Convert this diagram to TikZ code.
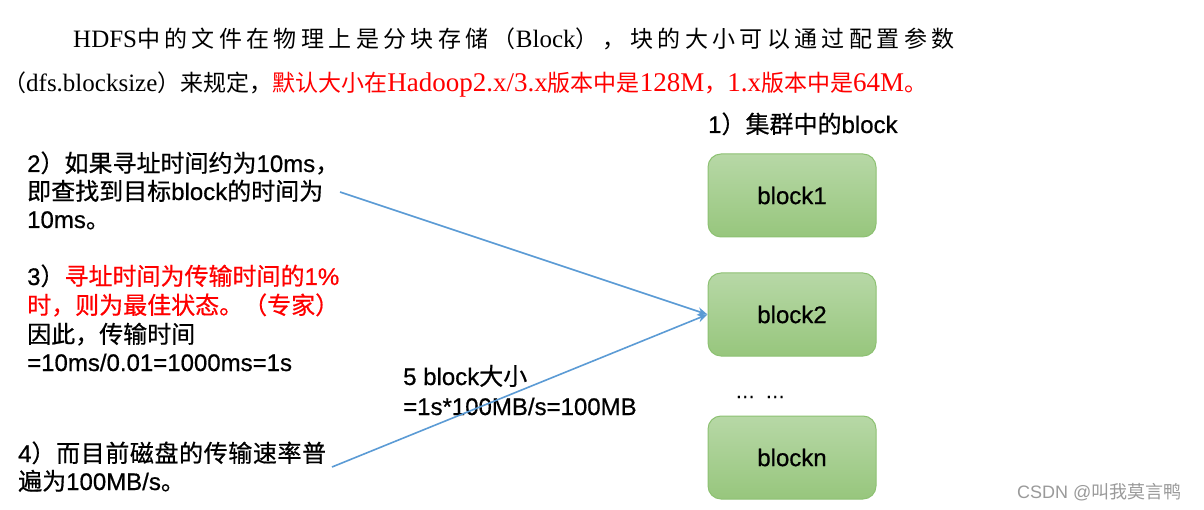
\documentclass[tikz,border=0pt]{standalone}
\usepackage{fontspec}
\setmainfont[FakeBold=0.6]{Liberation Sans}
\newfontfamily\zhf[FakeBold=0.6]{Noto Sans CJK SC}
\newfontfamily\zhplain{Noto Sans CJK SC}
\newfontfamily\zhwide[LetterSpace=19]{Noto Sans CJK SC}
\newfontfamily\zhsp[LetterSpace=2.5,FakeBold=0.6]{Noto Sans CJK SC}
\newfontfamily\serf{Liberation Serif}
\newcommand\zh[1]{{\zhf #1}}
\newcommand\zt[1]{{\fontsize{23}{30}\zhplain #1}}
\newcommand\zhw[1]{{\fontsize{23}{30}\zhwide #1}}
\newcommand\zhs[1]{{\zhsp #1}}
\newcommand\redlat[1]{{\fontsize{27}{30}\selectfont #1}}
\usetikzlibrary{arrows.meta}
\definecolor{arrowblue}{HTML}{5B9BD5}
\definecolor{gtop}{HTML}{B7D8A6}
\definecolor{gbot}{HTML}{97C67D}
\definecolor{gline}{HTML}{8DC172}
\definecolor{wm}{HTML}{9A9A9A}
\definecolor{hred}{HTML}{FF0000}
\begin{document}
\begin{tikzpicture}[x=1pt,y=-1pt,
  txt/.style={anchor=base west,inner sep=0pt,font=\fontsize{24}{29}\selectfont},
  head/.style={anchor=base west,inner sep=0pt,font=\fontsize{25}{30}\serf},
  blockbox/.style={draw=gline,line width=1pt,rounded corners=13pt,top color=gtop,bottom color=gbot,minimum width=168pt,minimum height=83pt,font=\fontsize{24}{28}\selectfont,inner sep=0pt},
  link/.style={draw=arrowblue,line width=1.6pt,-{Stealth[length=10pt,width=8pt]}}]
\fill[white] (0,0) rectangle (1204,510);
\useasboundingbox (0,0) rectangle (1204,510);
% heading
\node[head] (h1) at (73,48) {HDFS\zhw{中的文件在物理上是分块存储（}Block\zhw{），块的大小可以通过配置参数}};
\node[head] (h2) at (3,92) {\zt{（}dfs.blocksize\zt{）来规定，}\textcolor{hred}{\zt{默认大小在}\redlat{Hadoop2.x/3.x}\zt{版本中是}\redlat{128M}\zt{，}\redlat{1.x}\zt{版本中是}\redlat{64M}\zt{。}}};
% left column
\node[txt] (t2a) at (27,172) {2\zh{）如果寻址时间约为}10ms\zh{，}};
\node[txt] (t2b) at (27,200) {\zh{即查找到目标}block\zh{的时间为}};
\node[txt] (t2c) at (27,228) {10ms\zh{。}};
\node[txt] (t3a) at (27,285) {3\zh{）}\textcolor{hred}{\zh{寻址时间为传输时间的}1\%}};
\node[txt] (t3b) at (27,314) {\textcolor{hred}{\zh{时，则为最佳状态。（专家）}}};
\node[txt] (t3c) at (27,343) {\zh{因此，传输时间}};
\node[txt] (t3d) at (27,371) {=10ms/0.01=1000ms=1s};
\node[txt] (t4a) at (18,462) {4\zhs{）而目前磁盘的传输速率普}};
\node[txt] (t4b) at (18,490) {\zh{遍为}100MB/s\zh{。}};
% middle label
\node[txt] (l1) at (403,385) {5 block\zh{大小}};
\node[txt] (l2) at (403,415) {=1s*100MB/s=100MB};
% right column
\node[txt] (cap) at (708,133) {1\zh{）集群中的}block};
\node[blockbox] (b1) at (792,195.5) {block1};
\node[blockbox] (b2) at (792,314.5) {block2};
\node[blockbox] (bn) at (792,457.5) {blockn};
\node[anchor=base west,inner sep=0pt,font=\fontsize{20}{24}\selectfont] (dots) at (735,398) {…\hspace{10pt}…};
% connectors
\coordinate (s1) at (340,192);
\coordinate (s2) at (332,467);
\draw[link] (s1) -- (b2.west);
\draw[link] (s2) -- (b2.west);
% watermark
\node[anchor=base west,inner sep=0pt,text=wm,font=\fontsize{18}{22}\fontspec{Liberation Sans}] (wmk) at (1017,498) {CSDN @{\fontspec{Noto Sans CJK SC}叫我莫言鸭}};
\end{tikzpicture}
\end{document}
